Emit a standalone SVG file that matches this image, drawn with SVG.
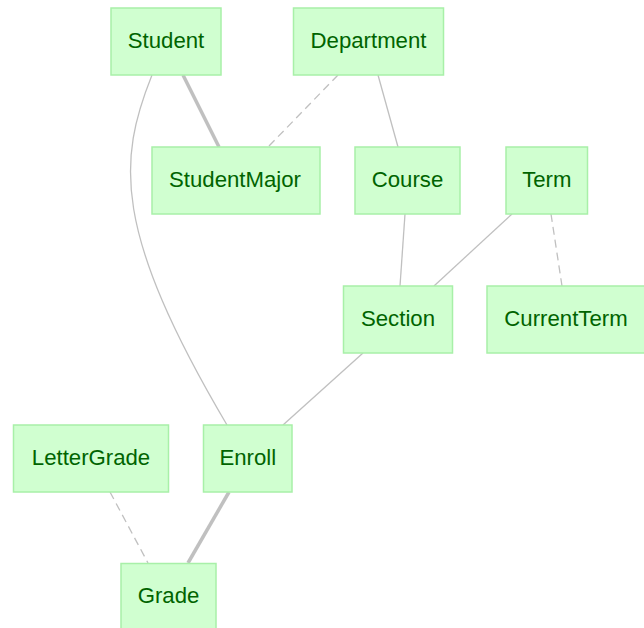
<svg xmlns="http://www.w3.org/2000/svg" width="644" height="628" viewBox="0 0 644 628">
<style>
.node rect{fill:#d0ffd0;stroke:#a8f0a8;stroke-width:1.5}
.node text{font-family:"Liberation Sans",Arial,sans-serif;font-size:22.2px;fill:#006400;text-anchor:middle}
.e{stroke:#c0c0c0;stroke-width:1.3;fill:none}
.thick{stroke-width:3.5}
.dash{stroke-dasharray:8,5}
</style>
<rect width="644" height="628" fill="#ffffff"/>
<g id="connectors">
<path class="e" d="M152,75 C118,160 112,230 227,425"/>
<line class="e thick" x1="183" y1="75" x2="219" y2="147"/>
<line class="e dash" x1="338" y1="75" x2="268" y2="147"/>
<line class="e" x1="378" y1="75" x2="398" y2="147"/>
<line class="e" x1="405" y1="214" x2="400" y2="286"/>
<line class="e" x1="512" y1="214" x2="434" y2="286"/>
<line class="e dash" x1="551" y1="214" x2="562" y2="286"/>
<line class="e" x1="363" y1="353" x2="283" y2="425"/>
<line class="e thick" x1="229" y1="492" x2="188" y2="563"/>
<line class="e dash" x1="110" y1="492" x2="148" y2="563"/>
</g>
<g id="Student" class="node"><rect x="111" y="8" width="110" height="67"/><text x="166" y="47.5">Student</text></g>
<g id="Department" class="node"><rect x="293.5" y="8" width="150" height="67"/><text x="368.5" y="47.5">Department</text></g>
<g id="StudentMajor" class="node"><rect x="152" y="147" width="168" height="67"/><text x="235" y="186.7">StudentMajor</text></g>
<g id="Course" class="node"><rect x="355" y="147" width="105" height="67"/><text x="407.5" y="186.7">Course</text></g>
<g id="Term" class="node"><rect x="506" y="147" width="81.5" height="67"/><text x="546.8" y="186.7">Term</text></g>
<g id="Section" class="node"><rect x="343.5" y="286" width="109" height="67"/><text x="398" y="325.7">Section</text></g>
<g id="CurrentTerm" class="node"><rect x="487" y="286" width="160" height="67"/><text x="566" y="325.7">CurrentTerm</text></g>
<g id="LetterGrade" class="node"><rect x="13.5" y="425" width="155" height="67"/><text x="91" y="464.7">LetterGrade</text></g>
<g id="Enroll" class="node"><rect x="203.5" y="425" width="88.5" height="67"/><text x="247.8" y="464.7">Enroll</text></g>
<g id="Grade" class="node"><rect x="121" y="563.5" width="95" height="67"/><text x="168.5" y="603">Grade</text></g>
</svg>
